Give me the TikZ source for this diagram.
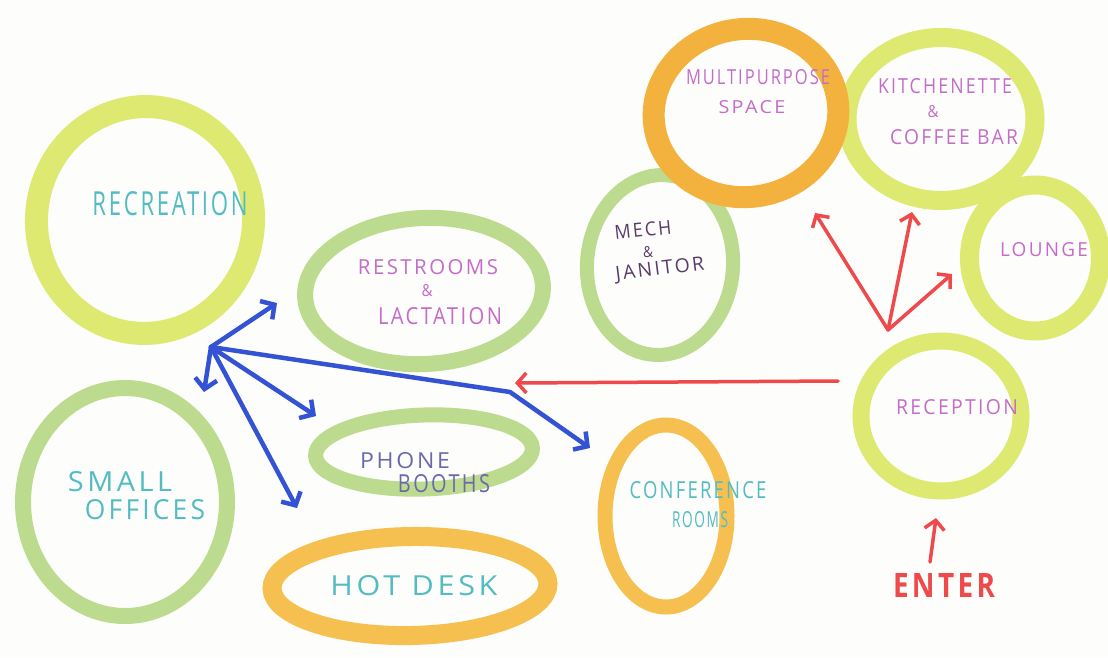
\documentclass[tikz,border=0pt]{standalone}
\usepackage{fontspec}
\usepackage{graphicx}
\setmainfont{Open Sans}[LetterSpace=12]
\usetikzlibrary{shapes.geometric,arrows.meta}
\definecolor{ylg}{HTML}{DDE971}
\definecolor{grn}{HTML}{BCDB8E}
\definecolor{org}{HTML}{F6C050}
\definecolor{orgd}{HTML}{F3B23E}
\definecolor{tealtxt}{HTML}{52BCC2}
\definecolor{pinktxt}{HTML}{C46CC8}
\definecolor{violtxt}{HTML}{6C68AC}
\definecolor{darktxt}{HTML}{5A3C6C}
\definecolor{redpen}{HTML}{EE4A4C}
\definecolor{bluepen}{HTML}{3452D4}
\definecolor{paper}{HTML}{FDFDFB}
\newcommand{\hw}[3]{\resizebox{#1pt}{#2pt}{#3}}
\tikzset{
  ring/.style={draw, ellipse, inner sep=0pt, outer sep=0pt},
  lbl/.style={inner sep=0pt, anchor=center},
  redarrow/.style={draw=redpen, line width=3.5pt, line cap=round, line join=round,
    -{Straight Barb[length=9pt,width=20pt,line width=3.5pt]}},
  bluearrow/.style={draw=bluepen, line width=4.5pt, line cap=round, line join=round,
    -{Straight Barb[length=10pt,width=22pt,line width=4.5pt]}},
}
\begin{document}
\begin{tikzpicture}[x=1pt,y=-1pt]
\useasboundingbox (0,0) rectangle (1108,657);
\fill[paper] (0,0) rectangle (1108,657);
% rings
\node[ring, draw=ylg, line width=23pt, minimum width=217pt, minimum height=227pt, rotate=-6] (recreation) at (145,220) {};
\node[ring, draw=grn, line width=16pt, minimum width=204pt, minimum height=228pt] (smalloffices) at (125,502) {};
\node[ring, draw=grn, line width=16pt, minimum width=238pt, minimum height=146pt, rotate=3] (restrooms) at (424,291) {};
\node[ring, draw=grn, line width=15pt, minimum width=217pt, minimum height=74pt, rotate=2] (phone) at (424,452) {};
\node[ring, draw=org, line width=19pt, minimum width=276pt, minimum height=99pt, rotate=1] (hotdesk) at (410,586) {};
\node[ring, draw=org, line width=15pt, minimum width=122pt, minimum height=182pt] (conference) at (666,516) {};
\node[ring, draw=grn, line width=14pt, minimum width=146pt, minimum height=180pt, rotate=-4] (mech) at (660,265) {};
\node[ring, draw=ylg, line width=19pt, minimum width=188pt, minimum height=163pt] (kitchen) at (941,119) {};
\node[ring, draw=orgd, line width=22pt, minimum width=185pt, minimum height=168pt, rotate=8] (multi) at (746,113) {};
\node[ring, draw=ylg, line width=19pt, minimum width=131pt, minimum height=146pt] (lounge) at (1035,258) {};
\node[ring, draw=ylg, line width=17pt, minimum width=160pt, minimum height=150pt] (reception) at (941,416) {};
% labels
\node[lbl, text=tealtxt] (recreation-t) at (170,204) {\hw{155}{24}{RECREATION}};
\node[lbl, text=tealtxt] (small-t) at (120,482) {\hw{104}{20}{SMALL}};
\node[lbl, text=tealtxt] (offices-t) at (145,510) {\hw{120}{20}{OFFICES}};
\node[lbl, text=pinktxt] (restrooms-t) at (428,267) {\hw{140}{15}{RESTROOMS}};
\node[lbl, text=pinktxt] (restamp-t) at (427,291) {\hw{11}{12}{\&}};
\node[lbl, text=pinktxt] (lactation-t) at (440,316) {\hw{124}{17}{LACTATION}};
\node[lbl, text=violtxt] (phone-t) at (405,461) {\hw{90}{16}{PHONE}};
\node[lbl, text=violtxt] (booths-t) at (444,484) {\hw{92}{18}{BOOTHS}};
\node[lbl, text=tealtxt] (hotdesk-t) at (414,586) {\hw{167}{20}{HOT DESK}};
\node[lbl, text=tealtxt] (conference-t) at (698,490) {\hw{137}{17}{CONFERENCE}};
\node[lbl, text=tealtxt] (rooms-t) at (700,520) {\hw{56}{16}{ROOMS}};
\node[lbl, text=darktxt, rotate=6] (mechn-t) at (643,230) {\hw{57}{14}{MECH}};
\node[lbl, text=darktxt] (mechamp-t) at (648,252) {\hw{10}{11}{\&}};
\node[lbl, text=darktxt, rotate=7] (janitor-t) at (660,270) {\hw{89}{14}{JANITOR}};
\node[lbl, text=pinktxt] (multi-t) at (758,77) {\hw{144}{15}{MULTIPURPOSE}};
\node[lbl, text=pinktxt] (space-t) at (752,107) {\hw{67}{13}{SPACE}};
\node[lbl, text=pinktxt] (kitchen-t) at (945,86) {\hw{134}{15}{KITCHENETTE}};
\node[lbl, text=pinktxt] (kitamp-t) at (933,112) {\hw{11}{12}{\&}};
\node[lbl, text=pinktxt] (coffee-t) at (954,137) {\hw{128}{15}{COFFEE BAR}};
\node[lbl, text=pinktxt] (lounge-t) at (1044,250) {\hw{88}{14}{LOUNGE}};
\node[lbl, text=pinktxt] (reception-t) at (957,407) {\hw{122}{15}{RECEPTION}};
\node[lbl, text=redpen] (enter-t) at (944,585) {\hw{102}{24}{\bfseries ENTER}};
% arrow points
\coordinate (redstart) at (838,381);
\coordinate (redend) at (515,383);
\coordinate (fan) at (888,330);
\coordinate (fan1) at (815,213);
\coordinate (fan2) at (912,212);
\coordinate (fan3) at (952,274);
\coordinate (enterbase) at (930,562);
\coordinate (entertip) at (936,518);
\coordinate (hub) at (211,347);
\coordinate (b1) at (277,303);
\coordinate (b2) at (204,392);
\coordinate (b3) at (316,416);
\coordinate (b4) at (297,508);
\coordinate (bend) at (510,392);
\coordinate (b5) at (590,448);
% red arrows
\draw[redarrow] (redstart) -- (redend);
\draw[redarrow] (fan) -- (fan1);
\draw[redarrow] (fan) -- (fan2);
\draw[redarrow] (fan) -- (fan3);
\draw[redarrow] (enterbase) -- (entertip);
% blue arrows
\draw[bluearrow] (hub) -- (b1);
\draw[bluearrow] (hub) -- (b2);
\draw[bluearrow] (hub) -- (b3);
\draw[bluearrow] (hub) -- (b4);
\draw[bluearrow] (hub) -- (bend) -- (b5);
\end{tikzpicture}
\end{document}
